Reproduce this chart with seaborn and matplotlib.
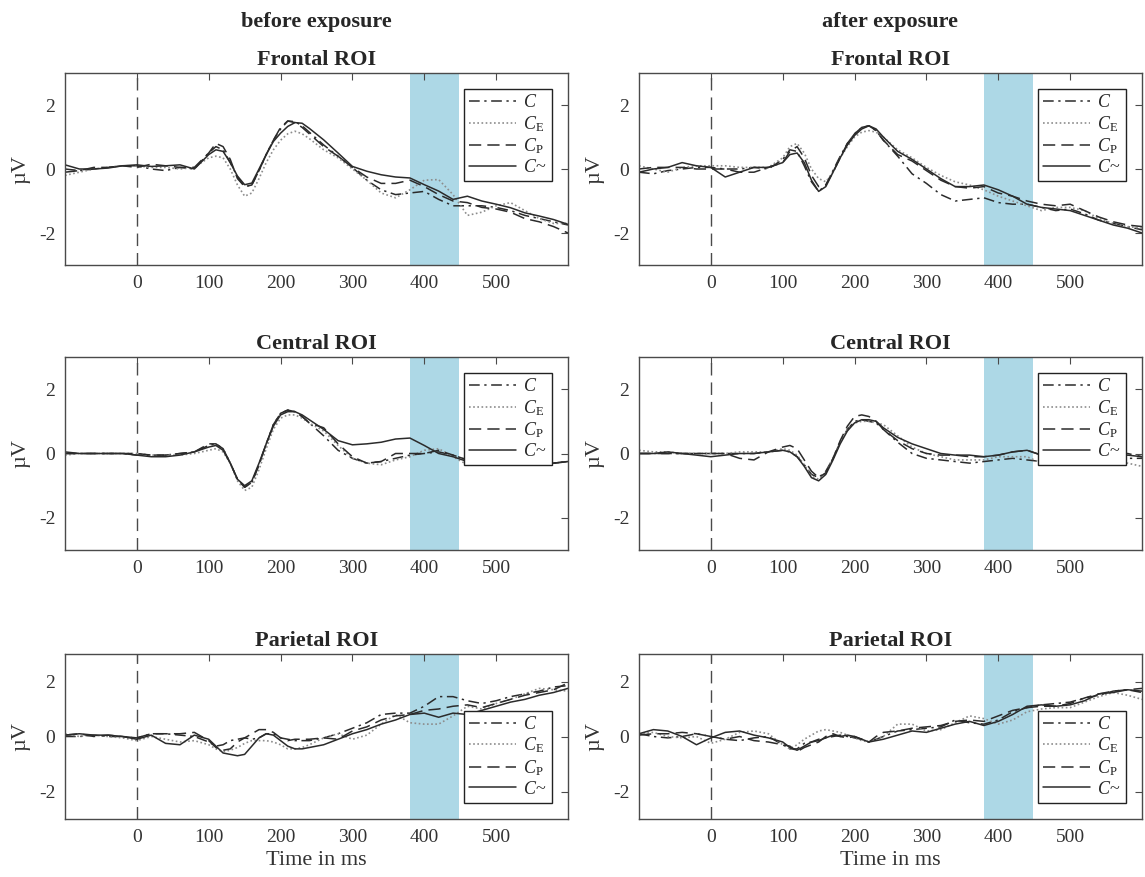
import numpy as np
import pandas as pd
import matplotlib
matplotlib.use("Agg")
import matplotlib.pyplot as plt
import seaborn as sns

# time points (ms)
times = [-100, -80, -60, -40, -20, 0, 20, 40, 60, 80,
         100, 110, 120, 130, 140, 150, 160, 170, 180, 190,
         200, 210, 220, 230, 240,
         260, 280, 300, 320, 340, 360, 380, 400, 420, 440, 460, 480, 500, 520, 540, 560, 580, 600]

# --- before exposure ---
front_pre_C = [0, -0.05, 0, 0.05, 0.1, 0.1, 0, -0.05, 0.05, 0,
               0.5, 0.7, 0.6, 0.2, -0.25, -0.55, -0.5, -0.05, 0.45, 0.9,
               1.25, 1.5, 1.48, 1.35, 1.15,
               0.75, 0.4, 0.05, -0.35, -0.65, -0.8, -0.75, -0.7, -0.95, -1.15, -1.15, -1.15, -1.2, -1.3, -1.45, -1.55, -1.65, -1.75]
front_pre_CE = [-0.2, -0.1, 0, 0.05, 0.1, 0.1, 0.05, 0.05, 0, 0.05,
                0.35, 0.4, 0.35, 0, -0.5, -0.85, -0.75, -0.3, 0.2, 0.6,
                0.9, 1.1, 1.18, 1.1, 0.95,
                0.6, 0.35, 0, -0.35, -0.75, -0.9, -0.65, -0.35, -0.33, -0.8, -1.45, -1.35, -1.15, -1.05, -1.3, -1.55, -1.7, -1.7]
front_pre_CP = [-0.1, -0.05, 0.05, 0.05, 0.1, 0.05, 0.15, 0.1, 0.05, 0.05,
                0.5, 0.8, 0.7, 0.3, -0.3, -0.55, -0.5, -0.05, 0.45, 0.9,
                1.3, 1.5, 1.45, 1.3, 1.1,
                0.7, 0.4, 0.05, -0.25, -0.45, -0.45, -0.35, -0.55, -0.8, -1.0, -1.05, -1.2, -1.25, -1.35, -1.55, -1.65, -1.8, -2.0]
front_pre_Cn = [0.13, 0, 0, 0.03, 0.1, 0.13, 0.08, 0.1, 0.13, 0,
                0.45, 0.6, 0.55, 0.2, -0.22, -0.49, -0.44, 0, 0.45, 0.86,
                1.12, 1.33, 1.45, 1.43, 1.27,
                0.91, 0.5, 0.08, -0.07, -0.18, -0.25, -0.28, -0.49, -0.69, -0.95, -0.85, -1.0, -1.1, -1.21, -1.37, -1.47, -1.58, -1.73]

cent_pre_C = [0, 0, 0, 0, 0, -0.05, -0.05, -0.05, 0, 0.05,
              0.25, 0.3, 0.15, -0.3, -0.8, -1.05, -0.9, -0.35, 0.3, 0.9,
              1.25, 1.35, 1.3, 1.15, 0.95,
              0.55, 0.1, -0.15, -0.3, -0.25, -0.15, -0.05, 0, 0.05, -0.05, -0.2, -0.25, -0.25, -0.3, -0.3, -0.35, -0.3, -0.25]
cent_pre_CE = [-0.05, 0, 0, 0, 0, 0, -0.05, -0.05, -0.05, 0,
               0.1, 0.15, 0.05, -0.3, -0.85, -1.15, -1.05, -0.5, 0.15, 0.75,
               1.1, 1.2, 1.2, 1.1, 0.95,
               0.7, 0.25, -0.15, -0.3, -0.35, -0.2, -0.1, 0.1, 0.15, -0.1, -0.35, -0.3, -0.3, -0.3, -0.35, -0.3, -0.3, -0.25]
cent_pre_CP = [0, 0, 0, 0, 0, 0, -0.05, -0.05, 0, 0.05,
               0.3, 0.3, 0.15, -0.3, -0.8, -1.05, -0.9, -0.35, 0.3, 0.9,
               1.25, 1.35, 1.3, 1.15, 0.95,
               0.8, 0.3, -0.1, -0.3, -0.25, 0, 0, 0, 0.1, -0.05, -0.2, -0.25, -0.25, -0.25, -0.3, -0.3, -0.3, -0.25]
cent_pre_Cn = [0.05, 0, 0, 0, 0, -0.05, -0.1, -0.1, -0.05, 0.05,
               0.2, 0.25, 0.1, -0.3, -0.8, -1.0, -0.85, -0.3, 0.3, 0.85,
               1.2, 1.3, 1.3, 1.2, 1.05,
               0.75, 0.4, 0.27, 0.3, 0.35, 0.45, 0.48, 0.25, 0, -0.1, -0.25, -0.25, -0.25, -0.25, -0.25, -0.3, -0.3, -0.25]

pari_pre_C = [0, 0, 0.05, 0, 0, -0.05, 0.1, 0.1, 0.05, 0,
              -0.2, -0.35, -0.3, -0.15, -0.1, -0.05, -0.1, -0.05, 0.1, 0.1,
              -0.05, -0.1, -0.15, -0.15, -0.15,
              -0.05, 0.1, 0.3, 0.5, 0.8, 0.85, 0.85, 1.1, 1.45, 1.45, 1.3, 1.2, 1.3, 1.45, 1.55, 1.65, 1.8, 1.85]
pari_pre_CE = [0.1, 0, 0.05, 0, -0.05, -0.15, 0, -0.1, -0.2, -0.15,
               -0.3, -0.45, -0.55, -0.5, -0.4, -0.25, -0.15, -0.15, -0.15, -0.2,
               -0.3, -0.45, -0.45, -0.4, -0.3,
               -0.05, 0.1, -0.1, 0.05, 0.45, 0.8, 0.5, 0.45, 0.45, 0.75, 1.1, 1.0, 1.2, 1.35, 1.55, 1.75, 1.7, 1.65]
pari_pre_CP = [0.05, 0.1, 0, 0.05, 0, -0.05, 0.1, 0.1, 0.1, 0.15,
               -0.15, -0.4, -0.5, -0.45, -0.2, -0.05, 0.1, 0.25, 0.25, 0.15,
               -0.05, -0.15, -0.1, -0.1, -0.1,
               -0.05, -0.1, 0.2, 0.35, 0.6, 0.75, 0.8, 0.95, 1.0, 1.1, 1.15, 1.05, 1.2, 1.35, 1.5, 1.6, 1.7, 1.95]
pari_pre_Cn = [0.05, 0.1, 0.05, 0.05, 0, -0.1, 0.05, -0.25, -0.3, 0.05,
               -0.1, -0.35, -0.6, -0.65, -0.7, -0.65, -0.35, -0.05, 0.1, 0.05,
               -0.15, -0.35, -0.45, -0.45, -0.4,
               -0.3, -0.1, 0.1, 0.25, 0.45, 0.6, 0.8, 0.85, 0.7, 0.85, 0.8, 0.95, 1.1, 1.25, 1.35, 1.5, 1.6, 1.75]

# --- after exposure ---
front_post_C = [-0.1, -0.15, -0.05, 0, 0.05, 0.05, 0, 0, 0.05, 0,
                0.3, 0.6, 0.55, 0.1, -0.4, -0.7, -0.5, -0.05, 0.4, 0.8,
                1.1, 1.3, 1.35, 1.2, 0.9,
                0.4, -0.15, -0.45, -0.8, -1.0, -0.95, -0.9, -1.05, -1.1, -1.1, -1.2, -1.3, -1.25, -1.4, -1.6, -1.7, -1.8, -1.9]
front_post_CE = [0.1, 0, -0.1, 0.05, 0.1, 0.1, 0.1, 0.05, 0.05, 0.05,
                 0.35, 0.7, 0.8, 0.5, 0, -0.3, -0.4, -0.1, 0.35, 0.7,
                 1.0, 1.15, 1.2, 1.15, 1.0,
                 0.6, 0.35, 0.05, -0.2, -0.4, -0.5, -0.65, -0.85, -1.0, -1.15, -1.3, -1.2, -1.2, -1.3, -1.55, -1.7, -1.8, -1.85]
front_post_CP = [0, 0.05, 0.05, 0.05, 0, 0, 0, -0.1, -0.1, 0.05,
                 0.2, 0.55, 0.7, 0.35, -0.2, -0.55, -0.5, -0.1, 0.35, 0.8,
                 1.1, 1.3, 1.35, 1.2, 0.9,
                 0.45, 0.25, -0.05, -0.35, -0.55, -0.6, -0.55, -0.75, -0.85, -1.0, -1.1, -1.15, -1.1, -1.3, -1.5, -1.65, -1.75, -1.8]
front_post_Cn = [-0.1, 0, 0.05, 0.2, 0.1, 0.05, -0.25, -0.1, 0.05, 0.05,
                 0.2, 0.45, 0.5, 0.2, -0.35, -0.7, -0.55, -0.1, 0.35, 0.75,
                 1.05, 1.25, 1.35, 1.25, 1.0,
                 0.55, 0.3, 0, -0.3, -0.55, -0.55, -0.5, -0.65, -0.85, -1.1, -1.2, -1.25, -1.3, -1.45, -1.6, -1.75, -1.85, -2.0]

cent_post_C = [0, 0, 0, 0, 0, 0, 0, 0, 0, 0.05,
               0.1, 0.05, -0.1, -0.35, -0.65, -0.75, -0.55, -0.15, 0.35, 0.75,
               1.0, 1.05, 1.0, 0.95, 0.75,
               0.35, 0, -0.15, -0.2, -0.25, -0.3, -0.25, -0.2, -0.15, -0.2, -0.25, -0.25, -0.25, -0.2, -0.2, -0.2, -0.15, -0.15]
cent_post_CE = [0.1, 0.05, 0.05, 0, 0, 0, 0, 0.05, 0.05, 0.05,
                0.15, 0.1, -0.05, -0.35, -0.7, -0.8, -0.6, -0.15, 0.35, 0.75,
                0.95, 1.0, 1.0, 0.95, 0.9,
                0.55, 0.2, 0, -0.1, -0.2, -0.2, -0.2, -0.1, -0.1, -0.1, -0.3, -0.3, -0.35, -0.3, -0.25, -0.25, -0.3, -0.4]
cent_post_CP = [0, 0, 0, 0, 0, 0, 0, -0.15, -0.2, 0.05,
                0.2, 0.25, 0.15, -0.2, -0.55, -0.75, -0.6, -0.15, 0.4, 0.85,
                1.15, 1.2, 1.15, 1.0, 0.75,
                0.4, 0.15, 0, -0.05, -0.05, -0.1, -0.1, -0.05, 0.05, 0.1, -0.05, -0.1, -0.1, -0.1, -0.1, -0.05, 0, -0.1]
cent_post_Cn = [0, 0, 0.05, 0, -0.05, -0.1, -0.05, 0, 0, 0.05,
                0.1, 0.05, -0.1, -0.4, -0.75, -0.85, -0.65, -0.2, 0.3, 0.7,
                0.95, 1.05, 1.05, 1.0, 0.8,
                0.5, 0.3, 0.15, 0, -0.05, -0.05, -0.1, -0.05, 0.05, 0.1, -0.05, -0.1, -0.15, -0.15, -0.1, -0.1, -0.05, -0.1]

pari_post_C = [0.1, 0, -0.05, 0, 0.1, 0, -0.1, -0.15, -0.05, 0,
               -0.3, -0.45, -0.45, -0.25, -0.2, -0.1, -0.05, 0, 0.05, 0,
               -0.05, -0.1, -0.2, -0.1, 0,
               0.2, 0.25, 0.3, 0.35, 0.6, 0.5, 0.45, 0.6, 0.9, 1.05, 1.15, 1.2, 1.25, 1.4, 1.5, 1.65, 1.7, 1.6]
pari_post_CE = [0.1, 0.15, 0, -0.05, 0, -0.25, -0.1, 0.15, 0.2, 0.1,
                -0.3, -0.45, -0.3, -0.1, 0.05, 0.2, 0.25, 0.2, 0.15, 0.05,
                -0.05, -0.15, -0.2, -0.1, 0,
                0.45, 0.45, 0.2, 0.25, 0.5, 0.75, 0.65, 0.45, 0.6, 0.9, 1.0, 1.05, 1.05, 1.25, 1.45, 1.6, 1.5, 1.35]
pari_post_CP = [0.05, 0.1, 0.1, 0.15, 0.1, 0, -0.1, 0, -0.15, -0.2,
                -0.3, -0.35, -0.55, -0.4, -0.3, -0.2, 0, 0.1, 0, -0.05,
                0, -0.1, -0.2, 0, 0.15,
                0.2, 0.3, 0.35, 0.4, 0.55, 0.6, 0.55, 0.75, 0.95, 1.05, 1.1, 1.1, 1.2, 1.4, 1.55, 1.65, 1.7, 1.75]
pari_post_Cn = [0.1, 0.25, 0.2, 0, -0.3, -0.05, 0.15, 0.2, 0.05, -0.05,
                -0.2, -0.4, -0.5, -0.35, -0.2, -0.15, -0.05, 0.05, 0, 0.05,
                0, -0.1, -0.2, -0.15, -0.1,
                0.05, 0.2, 0.15, 0.3, 0.45, 0.55, 0.4, 0.55, 0.8, 1.1, 1.15, 1.1, 1.15, 1.3, 1.55, 1.6, 1.7, 1.65]

conditions = ['$C$', '$C_{\\mathrm{E}}$', '$C_{\\mathrm{P}}$', '$C$~']
col_titles = ['before exposure', 'after exposure']
row_titles = ['Frontal ROI', 'Central ROI', 'Parietal ROI']
window = (380, 448)

panels = [
    [[front_pre_C, front_pre_CE, front_pre_CP, front_pre_Cn],
     [front_post_C, front_post_CE, front_post_CP, front_post_Cn]],
    [[cent_pre_C, cent_pre_CE, cent_pre_CP, cent_pre_Cn],
     [cent_post_C, cent_post_CE, cent_post_CP, cent_post_Cn]],
    [[pari_pre_C, pari_pre_CE, pari_pre_CP, pari_pre_Cn],
     [pari_post_C, pari_post_CE, pari_post_CP, pari_post_Cn]],
]

sns.set_theme(style='white')
plt.rcParams['font.family'] = ['Liberation Serif', 'DejaVu Serif']
plt.rcParams['mathtext.fontset'] = 'custom'
plt.rcParams['mathtext.rm'] = 'Liberation Serif'
plt.rcParams['mathtext.it'] = 'Liberation Serif:italic'
plt.rcParams['axes.unicode_minus'] = False

line_styles = [
    dict(color='#2b2b2b', ls=(0, (7, 3, 1.5, 3)), lw=1.1),
    dict(color='#8c8c8c', ls=(0, (1, 1.5)), lw=1.2),
    dict(color='#2b2b2b', ls=(0, (8, 4)), lw=1.1),
    dict(color='#2b2b2b', ls='-', lw=1.1),
]

W, H = 1145, 877
fig = plt.figure(figsize=(W / 100, H / 100), dpi=100)

col_x = [65, 639]
ax_w = 503
row_y = [(73, 265), (357, 550), (654, 819)]
spine_col = '#4a4a4a'

for r in range(3):
    for c in range(2):
        y0, y1 = row_y[r]
        ax = fig.add_axes([col_x[c] / W, 1 - y1 / H, ax_w / W, (y1 - y0) / H])
        ax.axvspan(window[0], window[1], color='#add8e6', lw=0, zorder=0)
        ax.axvline(0, color=spine_col, ls=(0, (9, 5)), lw=1.0, zorder=1)
        for k, vals in enumerate(panels[r][c]):
            st = line_styles[k]
            sns.lineplot(x=times, y=vals, ax=ax, color=st['color'], linestyle=st['ls'],
                         linewidth=st['lw'], label=conditions[k], zorder=2)
        ax.set_xlim(-100, 600)
        ax.set_ylim(-3, 3)
        ax.set_xticks([0, 100, 200, 300, 400, 500])
        ax.set_yticks([-2, 0, 2])
        ax.tick_params(direction='in', top=True, right=True, length=5, width=0.8,
                       color=spine_col, labelsize=14, labelcolor='#333333', pad=7)
        for s in ax.spines.values():
            s.set_color(spine_col)
            s.set_linewidth(1.0)
        ax.set_ylabel('µV', fontsize=16, color='#333333', labelpad=6)
        ax.set_xlabel('Time in ms' if r == 2 else '', fontsize=16, color='#333333', labelpad=4)
        ax.set_title(row_titles[r], fontsize=16, fontweight='bold', pad=6)
        if r == 2:
            leg_kw = dict(loc='lower right', bbox_to_anchor=(0.968, 0.097))
        else:
            leg_kw = dict(loc='upper right', bbox_to_anchor=(0.968, 0.917))
        leg = ax.legend(frameon=True, fancybox=False, framealpha=1, edgecolor='#222222',
                        fontsize=13, handlelength=2.6, handletextpad=0.4, labelspacing=0.15,
                        borderpad=0.3, borderaxespad=0, **leg_kw)
        leg.get_frame().set_linewidth(1.0)
        leg.set_zorder(5)

for c in range(2):
    fig.text((col_x[c] + ax_w / 2) / W, 1 - 22 / H, col_titles[c], ha='center', va='center',
             fontsize=16, fontweight='bold')

fig.savefig('out.png', dpi=100)
